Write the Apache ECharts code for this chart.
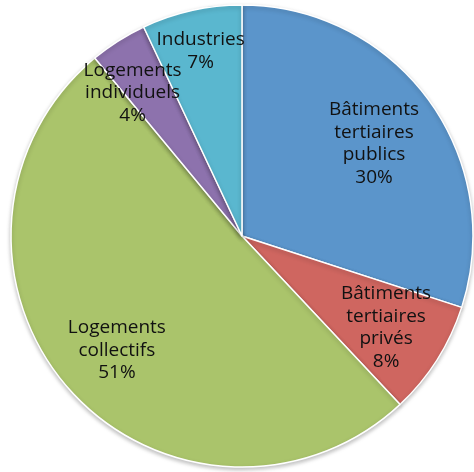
<!DOCTYPE html>
<html>
<head>
<meta charset="utf-8">
<script src="https://cdn.jsdelivr.net/npm/echarts@6/dist/echarts.min.js"></script>
<style>
  html, body { margin: 0; padding: 0; background: #fff; }
  #chart { width: 474px; height: 472px; }
</style>
</head>
<body>
<div id="chart"></div>
<script>
// Répartition par type de bâtiment (en %)
const categories = [
  'Bâtiments\ntertiaires\npublics',
  'Bâtiments\ntertiaires\nprivés',
  'Logements\ncollectifs',
  'Logements\nindividuels',
  'Industries'
];
const shares = [30, 8, 51, 4, 7];

const colors = ['#5B95CB', '#CF6660', '#AAC46B', '#8D72AD', '#5AB7CF'];
// how far out each label sits, relative to the default mid-radius position,
// and a small turn (degrees) around the pie centre
const labelPush = [1.36, 1.44, 1.43, 1.52, 1.60];
const labelTurn = [1, 0, -1, -5, 0];

const CX = 242, CY = 236, R = 231;

const chart = echarts.init(document.getElementById('chart'), null, { renderer: 'canvas' });

chart.setOption({
  animation: false,
  series: [{
    type: 'pie',
    center: [CX, CY],
    radius: [0, R],
    startAngle: 90,
    clockwise: true,
    avoidLabelOverlap: false,
    data: categories.map((name, i) => ({
      name: name,
      value: shares[i],
      itemStyle: { color: colors[i] }
    })),
    itemStyle: {
      borderColor: '#ffffff',
      borderWidth: 1.5,
      shadowBlur: 4,
      shadowOffsetY: 2,
      shadowColor: 'rgba(0,0,0,0.25)'
    },
    label: {
      show: true,
      position: 'inside',
      formatter: p => p.name + '\n' + p.value + '%',
      color: '#111',
      fontFamily: 'Open Sans',
      fontSize: 19,
      lineHeight: 22.5,
      align: 'center'
    },
    labelLine: { show: false },
    labelLayout: function (p) {
      const r = p.labelRect;
      const dx = r.x + r.width / 2 - CX;
      const dy = r.y + r.height / 2 - CY;
      const k = labelPush[p.dataIndex];
      const a = labelTurn[p.dataIndex] * Math.PI / 180;
      const rx = dx * Math.cos(a) - dy * Math.sin(a);
      const ry = dx * Math.sin(a) + dy * Math.cos(a);
      return {
        x: CX + rx * k,
        y: CY + ry * k,
        align: 'center',
        verticalAlign: 'middle'
      };
    },
    emphasis: { disabled: true }
  }]
});
</script>
</body>
</html>
